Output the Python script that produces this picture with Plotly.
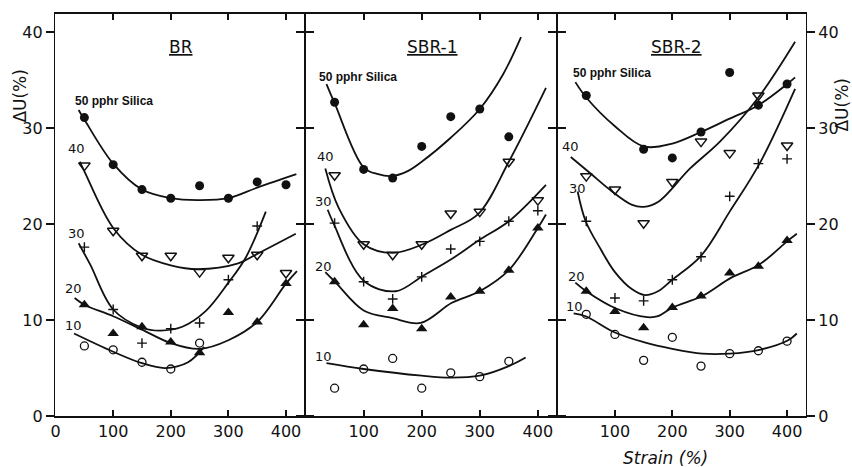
import plotly.graph_objects as go

# ---------------- data ----------------
x_all = [50, 100, 150, 200, 250, 300, 350, 400]

# BR panel (measured points)
br_50 = [31.1, 26.2, 23.6, 22.7, 24.0, 22.7, 24.4, 24.1]
br_40 = [26.1, 19.3, 16.7, 16.7, 15.0, 16.5, 16.8, 14.9]
br_30_x = [50, 100, 150, 200, 250, 300, 350]
br_30 = [17.6, 11.1, 7.6, 9.1, 9.7, 14.2, 19.8]
br_20 = [11.6, 8.6, 9.3, 7.7, 6.6, 10.8, 9.8, 13.8]
br_10_x = [50, 100, 150, 200, 250]
br_10 = [7.3, 6.9, 5.6, 4.9, 7.6]

# SBR-1 panel
s1_50_x = [50, 100, 150, 200, 250, 300, 350]
s1_50 = [32.7, 25.7, 24.8, 28.1, 31.2, 32.0, 29.1]
s1_40 = [25.1, 17.9, 16.8, 17.9, 21.1, 21.3, 26.5, 22.5]
s1_30 = [20.1, 14.0, 12.2, 14.5, 17.4, 18.2, 20.3, 21.4]
s1_20 = [14.0, 9.5, 11.2, 9.1, 12.4, 13.0, 15.2, 19.6]
s1_10_x = [50, 100, 150, 200, 250, 300, 350]
s1_10 = [2.9, 4.9, 6.0, 2.9, 4.5, 4.1, 5.7]

# SBR-2 panel
s2_50_x = [50, 150, 200, 250, 300, 350, 400]
s2_50 = [33.4, 27.8, 26.9, 29.6, 35.8, 32.4, 34.6]
s2_40 = [25.0, 23.6, 20.1, 24.4, 28.6, 27.4, 33.4, 28.2]
s2_30 = [20.3, 12.3, 12.0, 14.2, 16.6, 22.9, 26.3, 26.8]
s2_20 = [13.0, 10.9, 9.2, 11.3, 12.5, 14.9, 15.6, 18.3]
s2_10 = [10.6, 8.5, 5.8, 8.2, 5.2, 6.5, 6.8, 7.8]

# hand-drawn fitted curves
br_50_cx = [40, 50, 100, 150, 200, 247, 300, 350, 418]
br_50_cy = [31.9, 30.9, 26.3, 23.6, 22.7, 22.5, 22.7, 23.8, 25.2]
br_40_cx = [42, 50, 100, 150, 200, 247, 317, 350, 417]
br_40_cy = [26.5, 25.5, 19.6, 16.8, 15.7, 15.3, 15.9, 16.9, 19.0]
br_30_cx = [40, 60, 100, 150, 182, 220, 260, 300, 330, 365]
br_30_cy = [18.0, 15.8, 11.1, 9.2, 8.9, 9.3, 10.9, 13.9, 16.5, 21.3]
br_20_cx = [33, 50, 100, 150, 200, 250, 300, 350, 400, 419]
br_20_cy = [12.3, 11.6, 10.4, 9.0, 7.6, 7.0, 7.9, 9.8, 13.8, 15.1]
br_10_cx = [32, 100, 150, 190, 230, 258]
br_10_cy = [8.6, 6.7, 5.5, 5.0, 5.6, 7.2]

s1_50_cx = [36, 50, 100, 125, 147, 175, 200, 250, 300, 340, 371]
s1_50_cy = [34.6, 32.6, 25.9, 25.2, 25.0, 25.5, 26.5, 29.0, 32.0, 35.6, 39.5]
s1_40_cx = [34, 57, 100, 150, 202, 250, 298, 350, 414]
s1_40_cy = [25.8, 21.7, 17.9, 17.0, 17.9, 19.4, 21.1, 26.5, 34.2]
s1_30_cx = [38, 48, 100, 155, 202, 250, 298, 350, 414]
s1_30_cy = [21.5, 20.1, 14.1, 13.0, 14.6, 16.3, 18.3, 20.3, 24.1]
s1_20_cx = [34, 52, 100, 150, 198, 252, 300, 350, 400, 414]
s1_20_cy = [15.0, 13.9, 11.0, 10.2, 9.7, 11.8, 13.0, 15.2, 19.6, 21.0]
s1_10_cx = [36, 100, 200, 250, 300, 350, 379]
s1_10_cy = [5.5, 4.9, 4.2, 4.0, 4.2, 5.2, 6.1]

s2_50_cx = [31, 50, 100, 150, 200, 250, 300, 350, 400, 414]
s2_50_cy = [34.8, 33.2, 30.2, 28.1, 28.4, 29.6, 31.0, 32.4, 34.6, 35.3]
s2_40_cx = [23, 57, 95, 130, 150, 175, 231, 283, 350, 414]
s2_40_cy = [27.0, 25.3, 23.4, 22.0, 21.8, 22.3, 25.8, 28.6, 33.2, 39.0]
s2_30_cx = [35, 49, 75, 100, 130, 152, 175, 200, 250, 300, 352, 414]
s2_30_cy = [23.4, 20.3, 17.4, 15.0, 13.2, 12.6, 13.0, 14.2, 16.7, 21.3, 26.3, 34.1]
s2_20_cx = [31, 50, 102, 156, 175, 200, 252, 302, 352, 402, 417]
s2_20_cy = [13.9, 13.0, 11.2, 10.3, 10.4, 11.3, 12.5, 14.4, 15.8, 18.3, 19.0]
s2_10_cx = [28, 49, 100, 150, 200, 252, 300, 352, 402, 417]
s2_10_cy = [10.7, 10.4, 8.7, 7.7, 7.0, 6.5, 6.5, 6.9, 7.9, 8.6]

panel_titles = ["BR", "SBR-1", "SBR-2"]
y_ticks = [0, 10, 20, 30, 40]
x_ticks_first = [0, 100, 200, 300, 400]
x_ticks_other = [100, 200, 300, 400]

# ---------------- styles ----------------
BLACK = "#111111"
mk = {
    "50": dict(symbol="circle", size=9, color=BLACK),
    "40": dict(symbol="triangle-down-open", size=10, color=BLACK, line=dict(width=1.5, color=BLACK)),
    "30": dict(symbol="cross-thin-open", size=7, color=BLACK, line=dict(width=1.4, color=BLACK)),
    "20": dict(symbol="triangle-up", size=10, color=BLACK),
    "10": dict(symbol="circle-open", size=8, color=BLACK, line=dict(width=1.3, color=BLACK)),
}

panels = [
    dict(
        pts={"50": (x_all, br_50), "40": (x_all, br_40), "30": (br_30_x, br_30),
             "20": (x_all, br_20), "10": (br_10_x, br_10)},
        fits=[(br_50_cx, br_50_cy), (br_40_cx, br_40_cy), (br_30_cx, br_30_cy),
              (br_20_cx, br_20_cy), (br_10_cx, br_10_cy)],
        labels=[("50 pphr Silica", 30, 32.8), ("40", 37, 27.9), ("30", 37, 19.0),
                ("20", 31, 13.3), ("10", 31, 9.4)],
        title_x=218,
    ),
    dict(
        pts={"50": (s1_50_x, s1_50), "40": (x_all, s1_40), "30": (x_all, s1_30),
             "20": (x_all, s1_20), "10": (s1_10_x, s1_10)},
        fits=[(s1_50_cx, s1_50_cy), (s1_40_cx, s1_40_cy), (s1_30_cx, s1_30_cy),
              (s1_20_cx, s1_20_cy), (s1_10_cx, s1_10_cy)],
        labels=[("50 pphr Silica", 20, 35.3), ("40", 34, 27.0), ("30", 31, 22.4),
                ("20", 31, 15.6), ("10", 31, 6.2)],
        title_x=218,
    ),
    dict(
        pts={"50": (s2_50_x, s2_50), "40": (x_all, s2_40), "30": (x_all, s2_30),
             "20": (x_all, s2_20), "10": (x_all, s2_10)},
        fits=[(s2_50_cx, s2_50_cy), (s2_40_cx, s2_40_cy), (s2_30_cx, s2_30_cy),
              (s2_20_cx, s2_20_cy), (s2_10_cx, s2_10_cy)],
        labels=[("50 pphr Silica", 24, 35.8), ("40", 22, 28.1), ("30", 35, 23.7),
                ("20", 33, 14.5), ("10", 30, 11.4)],
        title_x=208,
    ),
]

fig = go.Figure()
edges = [0, 250 / 751, 502 / 751, 1.0]
XR = [-1, 433]
YR = [0, 41.9]
FONT = "DejaVu Sans"

annotations = []
for i, p in enumerate(panels):
    ax = "" if i == 0 else str(i + 1)
    xref, yref = "x" + ax, "y" + ax
    for cx, cy in p["fits"]:
        fig.add_trace(go.Scatter(x=cx, y=cy, mode="lines", xaxis=xref, yaxis=yref,
                                 line=dict(color=BLACK, width=1.8, shape="spline", smoothing=1.0),
                                 showlegend=False, hoverinfo="skip"))
    for key, (xs, ys) in p["pts"].items():
        fig.add_trace(go.Scatter(x=xs, y=ys, mode="markers", xaxis=xref, yaxis=yref,
                                 marker=mk[key], showlegend=False))
    for txt, lx, ly in p["labels"]:
        big = len(txt) > 3
        annotations.append(dict(
            text=("<b>%s</b>" % txt) if big else txt, x=lx, y=ly, xref=xref, yref=yref,
            xanchor="left" if big else "center", yanchor="middle", showarrow=False,
            font=dict(family="Liberation Sans" if big else FONT, size=12 if big else 13, color=BLACK)))
    annotations.append(dict(
        text="<u>%s</u>" % panel_titles[i], x=p["title_x"], y=38.5, xref=xref, yref=yref,
        xanchor="center", yanchor="middle", showarrow=False,
        font=dict(family=FONT, size=17, color=BLACK)))

axis_common = dict(showline=True, linecolor=BLACK, mirror="ticks",
                   showgrid=False, zeroline=False, tickcolor=BLACK, tickwidth=1.5,
                   tickfont=dict(family=FONT, size=16, color=BLACK))
layout = dict(width=852, height=467, margin=dict(l=55, r=46, t=12, b=51),
              paper_bgcolor="white", plot_bgcolor="white", showlegend=False)
for i in range(3):
    ax = "" if i == 0 else str(i + 1)
    layout["xaxis" + ax] = dict(axis_common, domain=[edges[i], edges[i + 1]], range=XR,
                                anchor="y" + ax, ticks="inside", ticklen=6, linewidth=2,
                                tickvals=x_ticks_first if i == 0 else x_ticks_other)
    ydict = dict(axis_common, domain=[0, 1], range=YR, anchor="x" + ax, linewidth=1.3,
                 ticks="outside", ticklen=8, tickvals=y_ticks, showticklabels=(i != 1))
    if i == 2:
        ydict["side"] = "right"
    layout["yaxis" + ax] = ydict

annotations += [
    dict(text="ΔU(%)", x=20, y=94, xref="paper", yref="paper", showarrow=False, textangle=-90,
         font=dict(family=FONT, size=17, color=BLACK)),
    dict(text="ΔU(%)", x=842, y=103, xref="paper", yref="paper", showarrow=False, textangle=-90,
         font=dict(family=FONT, size=17, color=BLACK)),
    dict(text="<i>Strain (%)</i>", x=665, y=458, xref="paper", yref="paper", showarrow=False,
         font=dict(family=FONT, size=17, color=BLACK)),
]
# convert pixel positions of the three axis/page texts to paper coordinates
for a in annotations[-3:]:
    a["x"] = (a["x"] - 55) / 751
    a["y"] = (416 - a["y"]) / 404
    a["xanchor"] = "center"
    a["yanchor"] = "middle"

layout["annotations"] = annotations
fig.update_layout(**layout)
fig.write_html("out.html")
